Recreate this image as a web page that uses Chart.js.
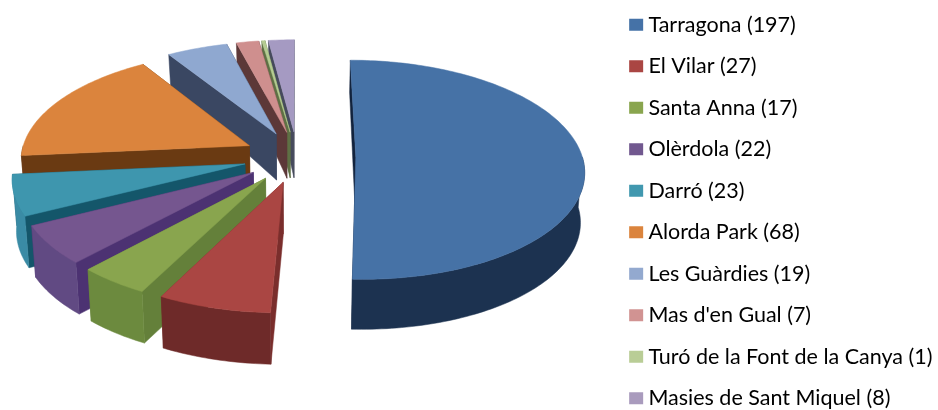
<!DOCTYPE html>
<html><head><meta charset="utf-8">
<style>html,body{margin:0;padding:0;background:#fff}canvas{display:block;filter:blur(0.45px)}</style>
<script src="https://cdn.jsdelivr.net/npm/chart.js@4"></script>
</head><body>
<canvas id="c" width="938" height="410"></canvas>
<script>
const categories = ["Tarragona","El Vilar","Santa Anna","Olèrdola","Darró","Alorda Park","Les Guàrdies","Mas d'en Gual","Turó de la Font de la Canya","Masies de Sant Miquel"];
const values = [197,27,17,22,23,68,19,7,1,8];
const faceColors = ["#4672A6","#AA4643","#89A54E","#75568F","#3E96AE","#DB843D","#8FA8D0","#CF8F8E","#B5CC92","#A59AC2"];
const rimColors = ["#1C3250","#6E2A29","#6C8A3E","#614A83","#3A8BA5","#6B3A14","#3C4A66","#5E3838","#5F7045","#474A5E"];
const sideColors = ["#12233D","#7A2E2C","#64803A","#4C3272","#14566A","#6A3A12","#3A4762","#5C3838","#5E7044","#464A5C"];
const legendColors = ["#4572A7","#AA4643","#89A54E","#71588F","#4198AF","#DB843D","#93A9CF","#D19392","#B9CD96","#A99BBD"];

const view = {dx:-5, dxLeft:-10, dy:-48.25, squash:108/233, persp:0.114, depthNear:50, depthFar:18, converge:0.015, rightScale:0.972, leftScale:0.982, leftNearY:1.012, leftNearDepth:1.03};

const pie3d = {
  id:'pie3d',
  beforeDatasetDraw(chart){
    const ctx = chart.ctx;
    const arcs = chart.getDatasetMeta(0).data;
    const project = (el,X,Y,low,isLeft) => {
      const w = 1 - view.persp*Y, R = el.outerRadius;
      const cx = el.x + (isLeft ? view.dxLeft : view.dx), cy = el.y + view.dy;
      const sx = isLeft ? view.leftScale : view.rightScale;
      const sy = isLeft && Y>0 ? view.leftNearY : 1;
      let x = cx + R*X*sx/w, y = cy + R*view.squash*Y*sy/w;
      if(low){
        const h = Y>=0 ? view.depthNear : view.depthNear + view.depthFar*Y;
        y += h*(isLeft && Y>0 ? view.leftNearDepth : 1);
        x += (cx-x)*view.converge;
      }
      return [x,y];
    };
    const order = arcs.map((el,i)=>({el,i,k:Math.sin((el.startAngle+el.endAngle)/2)})).sort((a,b)=>a.k-b.k);
    for(const {el,i} of order){
      const s=el.startAngle, e=el.endAngle, m=(s+e)/2, d=el.options.offset/el.outerRadius;
      const ox=d*Math.cos(m), oy=d*Math.sin(m), isLeft=ox<0;
      const rim=(t,low)=>project(el,Math.cos(t)+ox,Math.sin(t)+oy,low,isLeft);
      const apex=(low)=>project(el,ox,oy,low,isLeft);
      const n=Math.max(2,Math.ceil((e-s)/0.02));
      const poly=(pts,col)=>{ctx.beginPath();pts.forEach((p,j)=>j?ctx.lineTo(p[0],p[1]):ctx.moveTo(p[0],p[1]));ctx.closePath();ctx.fillStyle=col;ctx.strokeStyle=col;ctx.lineWidth=0.5;ctx.fill();ctx.stroke();};
      poly([apex(false),rim(e,false),rim(e,true),apex(true)],sideColors[i]);
      poly([apex(false),rim(s,false),rim(s,true),apex(true)],sideColors[i]);
      const a0=Math.max(s,0), a1=Math.min(e,Math.PI);
      if(a1>a0){
        const up=[],lo=[];
        const k=Math.max(2,Math.ceil((a1-a0)/0.02));
        for(let j=0;j<=k;j++){const t=a0+(a1-a0)*j/k;up.push(rim(t,false));lo.unshift(rim(t,true));}
        poly(up.concat(lo),rimColors[i]);
      }
      const top=[apex(false)];
      for(let j=0;j<=n;j++)top.push(rim(s+(e-s)*j/n,false));
      poly(top,faceColors[i]);
    }
    return false;
  }
};

new Chart(document.getElementById('c'),{
  type:'pie',
  data:{labels:categories,datasets:[{data:values,offset:55,backgroundColor:faceColors}]},
  plugins:[pie3d],
  options:{
    responsive:false,animation:false,radius:233,
    layout:{padding:{top:-6,right:-4.5,bottom:-40,left:0}},
    plugins:{
      tooltip:{enabled:false},
      legend:{
        position:'right',align:'start',
        labels:{
          boxWidth:3,boxHeight:1,padding:20,color:'#2e2e2e',
          font:{family:'Lato',size:21.5},
          generateLabels:()=>categories.map((c,i)=>({text:c+' ('+values[i]+')',fillStyle:legendColors[i],strokeStyle:legendColors[i],lineWidth:11,index:i,hidden:false}))
        }
      }
    }
  }
});
</script>
</body></html>
